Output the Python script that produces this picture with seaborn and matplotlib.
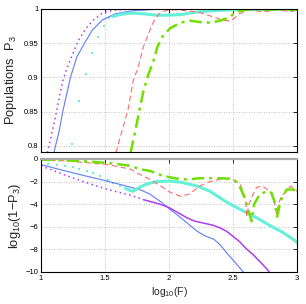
import matplotlib
matplotlib.use("Agg")
import matplotlib.pyplot as plt
import seaborn as sns
import numpy as np

# ---------------- data ----------------
# top panel: populations P3 vs log10(F)
blue_top_x = [1.10, 1.14, 1.17, 1.20, 1.23, 1.28, 1.34, 1.40, 1.48, 1.58, 1.70, 1.85, 2.0, 3.0]
blue_top_y = [0.79, 0.82, 0.85, 0.875, 0.90, 0.93, 0.95, 0.969, 0.984, 0.993, 0.997, 0.999, 1.0, 1.0]

mag_top_x = [1.05, 1.08, 1.11, 1.14, 1.17, 1.20, 1.23, 1.26, 1.29, 1.33, 1.37, 1.41, 1.48, 1.56, 1.70, 3.0]
mag_top_y = [0.79, 0.815, 0.84, 0.868, 0.895, 0.912, 0.926, 0.94, 0.953, 0.966, 0.976, 0.984, 0.994, 0.998, 1.0, 1.0]

cyan_top_pts_x = [1.24, 1.30, 1.35, 1.40, 1.445, 1.49, 1.53]
cyan_top_pts_y = [0.803, 0.866, 0.905, 0.936, 0.959, 0.975, 0.987]
cyan_top_x = [1.56, 1.62, 1.70, 1.80, 1.90, 2.0, 2.1, 2.2, 2.3, 2.5, 3.0]
cyan_top_y = [0.989, 0.992, 0.994, 0.993, 0.991, 0.991, 0.992, 0.995, 0.997, 0.999, 1.0]

red_top_x = [1.585, 1.63, 1.68, 1.72, 1.76, 1.80, 1.83, 1.87, 1.90, 1.93, 1.98, 2.05, 2.16, 2.24,
             2.32, 2.40, 2.48, 2.55, 2.62, 2.69, 2.75, 2.84, 2.95, 3.0]
red_top_y = [0.79, 0.82, 0.853, 0.895, 0.915, 0.945, 0.959, 0.978, 0.988, 0.994, 0.998, 0.999, 0.997, 0.995,
             0.99, 0.985, 0.982, 0.993, 0.999, 0.997, 0.996, 0.999, 0.996, 0.998]

green_top_x = [1.70, 1.74, 1.77, 1.80, 1.84, 1.88, 1.91, 1.95, 2.01, 2.09, 2.16, 2.24, 2.32, 2.40,
               2.46, 2.50, 2.55, 2.60, 3.0]
green_top_y = [0.79, 0.825, 0.853, 0.88, 0.905, 0.925, 0.945, 0.96, 0.972, 0.98, 0.983, 0.981, 0.98, 0.983,
               0.987, 0.992, 0.997, 0.999, 0.999]

# bottom panel: log10(1-P3) vs log10(F)
blue_bot_x = [1.0, 1.17, 1.33, 1.46, 1.60, 1.70, 1.78, 1.85, 1.90, 1.95, 2.0, 2.07, 2.14, 2.22, 2.28,
              2.35, 2.40, 2.45, 2.52, 2.58, 2.62]
blue_bot_y = [-0.5, -1.0, -1.45, -1.8, -2.2, -2.5, -2.75, -3.1, -3.5, -3.9, -4.4, -5.0, -5.65, -6.4, -6.8,
              -7.1, -7.6, -8.3, -9.2, -10.0, -10.6]

mag_bot_x = [1.0, 1.17, 1.33, 1.52, 1.70, 1.80, 1.85, 1.93, 2.0, 2.07, 2.14, 2.20, 2.24, 2.30, 2.34,
             2.40, 2.45, 2.50, 2.55, 2.60, 2.66, 2.72, 2.77, 2.80]
mag_bot_y = [-0.6, -1.35, -2.0, -2.7, -3.2, -3.6, -3.75, -4.0, -4.3, -4.75, -5.2, -5.5, -5.6, -5.75, -5.85,
             -6.1, -6.4, -6.85, -7.3, -7.9, -8.5, -9.2, -9.8, -10.3]

cyan_bot_pts_x = [1.0, 1.055, 1.125, 1.19, 1.25, 1.30, 1.36, 1.41, 1.46, 1.52, 1.56, 1.62]
cyan_bot_pts_y = [-0.42, -0.45, -0.54, -0.6, -0.7, -0.9, -1.05, -1.2, -1.5, -1.9, -2.1, -2.4]
cyan_bot_x = [1.66, 1.70, 1.72, 1.77, 1.83, 1.90, 2.0, 2.09, 2.22, 2.32, 2.42, 2.48, 2.58, 2.70,
              2.79, 2.89, 3.0]
cyan_bot_y = [-2.6, -2.8, -2.85, -2.5, -2.2, -2.0, -1.95, -2.05, -2.4, -2.85, -3.6, -4.0, -4.6, -5.3,
              -5.9, -6.5, -7.35]

red_bot_x = [1.0, 1.17, 1.33, 1.52, 1.70, 1.77, 1.85, 1.95, 2.0, 2.09, 2.16, 2.24, 2.32, 2.40, 2.48,
             2.555, 2.58, 2.60, 2.607, 2.625, 2.645, 2.685, 2.73, 2.79, 2.82, 2.84, 2.86, 2.88, 2.95, 3.0]
red_bot_y = [-0.1, -0.15, -0.3, -0.5, -0.9, -1.35, -1.8, -2.5, -2.9, -3.3, -3.1, -2.4, -2.0, -1.8, -1.7,
             -2.2, -2.9, -3.8, -5.1, -4.0, -3.4, -2.5, -2.4, -2.85, -3.6, -4.9, -3.8, -3.3, -2.4, -2.85]

green_bot_x = [1.0, 1.17, 1.33, 1.52, 1.70, 1.77, 1.85, 1.93, 2.0, 2.09, 2.16, 2.24, 2.32, 2.40, 2.48,
               2.52, 2.555, 2.59, 2.62, 2.645, 2.665, 2.71, 2.77, 2.80, 2.825, 2.845, 2.865, 2.88, 2.92,
               2.97, 3.0]
green_bot_y = [-0.05, -0.1, -0.2, -0.35, -0.6, -0.9, -1.05, -1.4, -1.6, -1.8, -1.8, -1.7, -1.7, -1.7, -1.75,
               -1.95, -2.5, -3.4, -4.5, -5.5, -4.0, -3.1, -2.85, -3.0, -3.8, -5.1, -4.0, -3.5, -2.7,
               -2.7, -2.95]

x_ticks = [1, 1.5, 2, 2.5, 3]
x_tick_labels = ["1", "1.5", "2", "2.5", "3"]
top_y_ticks = [0.8, 0.85, 0.9, 0.95, 1.0]
top_y_tick_labels = ["0.8", "0.85", "0.9", "0.95", "1"]
bot_y_ticks = [0, -2, -4, -6, -8, -10]
bot_y_tick_labels = ["0", "\u22122", "\u22124", "\u22126", "\u22128", "\u221210"]

# ---------------- styling ----------------
sns.set_style("white")
plt.rcParams['font.family'] = ['Liberation Sans', 'DejaVu Sans']
plt.rcParams['mathtext.fontset'] = 'custom'
plt.rcParams['mathtext.rm'] = 'Liberation Sans'
plt.rcParams['mathtext.it'] = 'Liberation Sans'

C_BLUE = '#5b7cff'
C_MAG = '#b03cf0'
C_CYAN = '#66f0d8'
C_RED = '#ff6b6b'
C_GREEN = '#70e000'

fig = plt.figure(figsize=(3.06, 3.04), dpi=100)
ax1 = fig.add_axes([0.134, 0.5, 0.8366, 0.4704])
ax2 = fig.add_axes([0.134, 0.1053, 0.8366, 0.3717])

red_ls = (0, (5, 3))
green_ls = (0, (5, 2, 1.2, 2))
dot_ls = (0, (1, 2.2))

# top panel
sns.lineplot(x=blue_top_x, y=blue_top_y, ax=ax1, color=C_BLUE, lw=0.8)
sns.lineplot(x=mag_top_x, y=mag_top_y, ax=ax1, color=C_MAG, lw=1.1, linestyle=dot_ls)
sns.scatterplot(x=cyan_top_pts_x, y=cyan_top_pts_y, ax=ax1, color=C_CYAN, s=4, marker='s',
                linewidth=0)
sns.lineplot(x=cyan_top_x, y=cyan_top_y, ax=ax1, color=C_CYAN, lw=2.2)
sns.lineplot(x=red_top_x, y=red_top_y, ax=ax1, color=C_RED, lw=0.8, linestyle=red_ls)
sns.lineplot(x=green_top_x, y=green_top_y, ax=ax1, color=C_GREEN, lw=1.8, linestyle=green_ls)

# bottom panel
sns.lineplot(x=blue_bot_x, y=blue_bot_y, ax=ax2, color=C_BLUE, lw=0.8)
sns.lineplot(x=mag_bot_x[:6], y=mag_bot_y[:6], ax=ax2, color=C_MAG, lw=1.1, linestyle=dot_ls)
sns.lineplot(x=mag_bot_x[5:], y=mag_bot_y[5:], ax=ax2, color=C_MAG, lw=1.1)
sns.scatterplot(x=cyan_bot_pts_x, y=cyan_bot_pts_y, ax=ax2, color=C_CYAN, s=4, marker='s',
                linewidth=0)
sns.lineplot(x=cyan_bot_x, y=cyan_bot_y, ax=ax2, color=C_CYAN, lw=2.2)
sns.lineplot(x=red_bot_x, y=red_bot_y, ax=ax2, color=C_RED, lw=0.8, linestyle=red_ls)
sns.lineplot(x=green_bot_x, y=green_bot_y, ax=ax2, color=C_GREEN, lw=1.8, linestyle=green_ls)

for ax in (ax1, ax2):
    ax.set_xlim(1, 3)
    ax.set_xticks(x_ticks)
    ax.grid(True, color='#b0b0b0', lw=0.6, linestyle=(0, (1, 2)))
    ax.tick_params(direction='in', length=3, width=0.6, top=True, right=True,
                   labelsize=5.5, pad=2, colors='black')
    for sp in ax.spines.values():
        sp.set_color('black')
        sp.set_linewidth(0.8)
    ax.set_axisbelow(True)

ax1.set_ylim(0.791, 1.0)
ax1.set_yticks(top_y_ticks)
ax1.set_yticklabels(top_y_tick_labels)
ax1.set_xticklabels([])
ax1.set_ylabel("Populations  P$_3$", fontsize=9.3, labelpad=3)

ax2.set_ylim(-10, 0)
ax2.set_yticks(bot_y_ticks)
ax2.set_yticklabels(bot_y_tick_labels)
ax2.set_xticklabels(x_tick_labels)
ax2.spines['top'].set_color('#a8a8a8')
ax2.spines['top'].set_linewidth(1.6)
ax2.set_ylabel("log$_{10}$(1\u2212P$_3$)", fontsize=9.3, labelpad=2)
ax2.set_xlabel("log$_{10}$(F)", fontsize=7.5, labelpad=2)

fig.savefig("out.png", dpi=100)
